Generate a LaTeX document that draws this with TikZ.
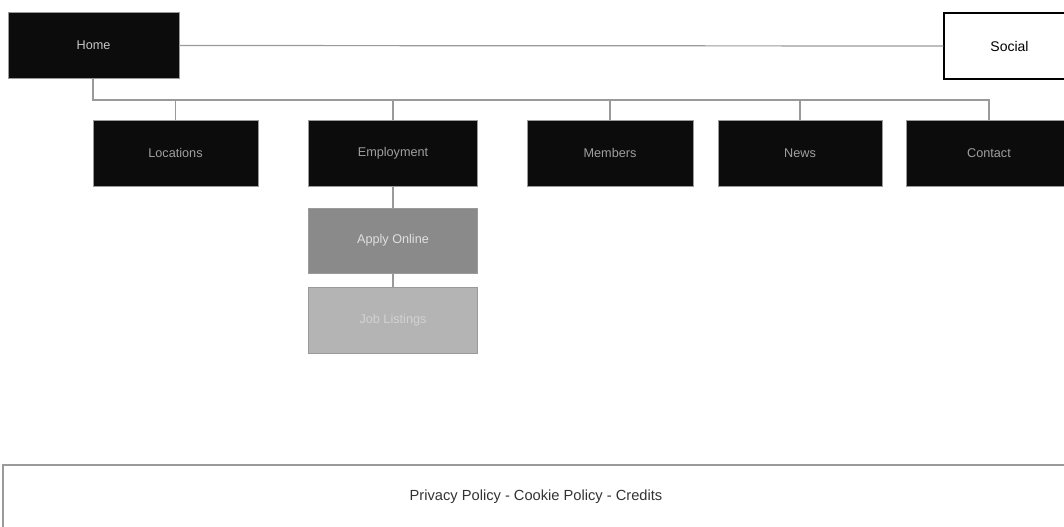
\documentclass[tikz,border=0pt]{standalone}
\usepackage{fontspec}
\setmainfont{Liberation Sans}
\definecolor{linegray}{HTML}{9A9A9A}
\definecolor{boxdark}{HTML}{0C0C0C}
\definecolor{subgray}{HTML}{8A8A8A}
\definecolor{sublight}{HTML}{B4B4B4}
\tikzset{
  page/.style={draw=linegray,fill=boxdark,text=gray!75,inner sep=0pt,minimum height=49.5pt,font=\fontsize{9.5}{11}\selectfont},
  wd/.style={minimum width=#1*0.75pt},
  link/.style={draw=linegray,line width=.9pt},
}

\begin{document}
\begin{tikzpicture}[x=.75pt,y=-.75pt]
\clip (0,0) rectangle (1064,526);
%\draw[help lines] (0,0) grid[step=100] (1064,526);

% top row
\node[page,wd=171,text=gray!45] (home) at (93.5,45.5) {Home};
\node[page,wd=131,fill=white,draw=black,text=black,line width=1pt,font=\fontsize{10.5}{12}\selectfont] (social) at (1009.5,46) {Social};
\draw[link] (home.east) -- (social.west);

% menu pages
\node[page,wd=165] (locations) at (175.5,153) {Locations};
\node[page,wd=169] (employment) at (393,153) {Employment};
\node[page,wd=166] (members) at (610,153) {Members};
\node[page,wd=164] (news) at (800,153) {News};
\node[page,wd=166] (contact) at (989,153) {Contact};

\coordinate (bus) at (93,100);
\draw[link] (home.south -| bus) -- (bus) -| (contact.north);
\foreach \p in {locations,employment,members,news}
  \draw[link] (bus -| \p.north) -- (\p.north);

% employment sub pages
\node[page,wd=169,minimum height=48.75pt,fill=subgray,text=gray!25] (apply) at (393,240.5) {Apply Online};
\node[page,wd=169,fill=sublight,text=gray!35] (jobs) at (393,320) {Job Listings};
\draw[link] (employment.south) -- (apply.north);
\draw[link] (apply.south) -- (jobs.north);

% footer
\draw[linegray,line width=.8pt] (1070,465) -- (3,465) -- (3,530);
\node[font=\fontsize{11}{13}\selectfont,text=black!80] (footer) at (536,497) {Privacy Policy - Cookie Policy - Credits};

\end{tikzpicture}
\end{document}
